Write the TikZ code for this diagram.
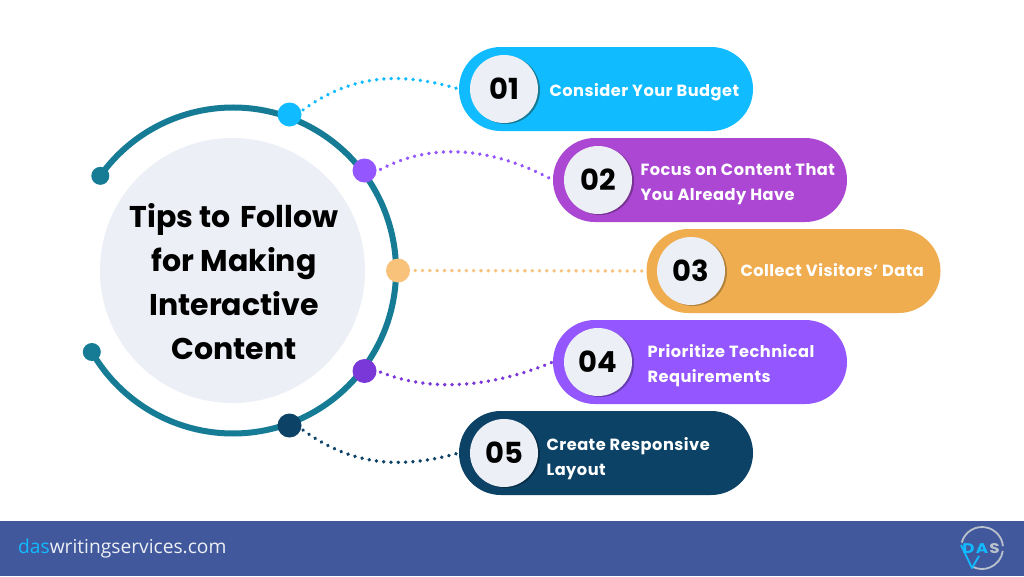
\documentclass[tikz,border=0pt]{standalone}
\usepackage{fontspec}
\setmainfont{Poppins}
\newfontfamily\footfont{Open Sans}
\newfontfamily\labelfont[LetterSpace=3]{Poppins}
\usetikzlibrary{calc}
\definecolor{ringc}{HTML}{167C96}
\definecolor{softc}{HTML}{ECEFF5}
\definecolor{cA}{HTML}{11BBFF}
\definecolor{cB}{HTML}{AB47D2}
\definecolor{cBd}{HTML}{9457FF}
\definecolor{cC}{HTML}{EFAD4F}
\definecolor{cCd}{HTML}{F8C27A}
\definecolor{cD}{HTML}{9457FF}
\definecolor{cDd}{HTML}{7B38D8}
\definecolor{cE}{HTML}{0B4266}
\definecolor{barc}{HTML}{42589C}
\definecolor{logog}{HTML}{B9C2CC}
\tikzset{
  pill/.style={rounded corners=41.9pt,minimum width=294pt,minimum height=84pt,inner sep=0pt,fill=#1},
  badge/.style={circle,minimum size=68pt,inner sep=0pt,fill=softc,font=\bfseries\fontsize{29}{29}\selectfont,text=black},
  badgeshade/.style={circle,minimum size=68pt,inner sep=0pt,fill=#1},
  joint/.style={circle,minimum size=24pt,inner sep=0pt,fill=#1},
  link/.style={draw=#1,line width=3.8pt,line cap=round,dash pattern=on 0.01pt off 7.3pt},
  lab/.style={anchor=west,align=left,text=white,font=\labelfont\bfseries\fontsize{16.2}{25}\selectfont},
}
\begin{document}
\begin{tikzpicture}[x=1pt,y=-1pt]
\useasboundingbox (0,0) rectangle (1024,576);
\fill[white] (0,0) rectangle (1024,576);
% footer
\node[anchor=north west,minimum width=1024pt,minimum height=55pt,inner sep=0pt,fill=barc] (bar) at (0,521) {};
\node[anchor=west,inner sep=0pt,font=\footfont\fontsize{19.2}{20}\selectfont,text=softc] (site) at (18,548.5) {\textcolor{cA}{das}writingservices.com};
% logo
\coordinate (lg) at (982,548);
\draw[logog,line width=1.8pt] ($(lg)+(165:21pt)$) arc[start angle=165,end angle=5,radius=21pt];
\draw[logog,line width=1.8pt] ($(lg)+(-8:21pt)$) arc[start angle=-8,end angle=-115,radius=21pt];
\draw[cA,line width=1.8pt,line join=round] (961,545) -- (972,568) -- (979,556);
\node[inner sep=0pt,font=\bfseries\fontsize{14}{14}\selectfont,text=cA,xscale=1.2] (dastext) at (981,548.5) {D\kern1pt A\kern1pt\textcolor{logog}{S}};
% centre
\coordinate (c) at (233,270.5);
\node[circle,minimum size=265pt,inner sep=0pt,fill=softc] (hub) at (232.5,270.5) {};
\node[align=center,inner sep=0pt,text=black,font=\bfseries\fontsize{30}{44}\selectfont] (hubtext) at (234,281.5) {Tips to\kern3pt{} Follow\\for Making\\Interactive\\Content};
% ring
\coordinate (ra) at ($(c)+(144.5:163pt)$);
\coordinate (rb) at ($(c)+(210:163pt)$);
\draw[ringc,line width=6pt] (ra) arc[start angle=144.5,end angle=-150,radius=163pt];
\node[circle,minimum size=18pt,inner sep=0pt,fill=ringc] (enda) at (ra) {};
\node[circle,minimum size=18pt,inner sep=0pt,fill=ringc] (endb) at (rb) {};
% joints
\node[joint=cA] (j1) at (289.5,114.5) {};
\node[joint=cBd] (j2) at (364.5,170.5) {};
\node[joint=cCd] (j3) at (398,270.5) {};
\node[joint=cDd] (j4) at (364.5,371) {};
\node[joint=cE] (j5) at (289.5,425.5) {};
% pills
\node[pill=cA] (p1) at (606,89) {};
\node[pill=cB] (p2) at (700,180) {};
\node[pill=cC] (p3) at (793.5,271) {};
\node[pill=cD] (p4) at (700,362) {};
\node[pill=cE] (p5) at (606,453) {};
% links
\draw[link=cA] (j1.30) ++(3pt,-1.5pt) coordinate (l1) (l1) .. controls (355,72) and (405,73) .. (p1.west);
\draw[link=cBd] (j2.10) ++(4pt,-1pt) coordinate (l2) (l2) .. controls (430,143) and (490,146) .. (p2.west);
\draw[link=cCd] (j3.east) ++(5pt,0pt) coordinate (l3) (l3) -- (p3.west);
\draw[link=cDd] (j4.-10) ++(4pt,1pt) coordinate (l4) (l4) .. controls (430,392) and (490,388) .. (p4.west);
\draw[link=cE] (j5.-30) ++(3pt,1.5pt) coordinate (l5) (l5) .. controls (355,468) and (405,468) .. (p5.west);
% badges
\node[badgeshade=ringc] (s1) at (506,90) {};
\node[badge] (b1) at (504,89) {01};
\node[badgeshade={cB!70!black}] (s2) at (600,181) {};
\node[badge] (b2) at (598,180) {02};
\node[badgeshade={cC!75!black}] (s3) at (693,272) {};
\node[badge] (b3) at (691,271) {03};
\node[badgeshade={cD!70!black}] (s4) at (600,363) {};
\node[badge] (b4) at (598,362) {04};
\node[badgeshade={cE!70!black}] (s5) at (506,454) {};
\node[badge] (b5) at (504,453) {05};
% labels
\node[lab] (t1) at (546,92) {Consider Your Budget};
\node[lab] (t2) at (637,184) {Focus on Content That\\You Already Have};
\node[lab] (t3) at (737,270.5) {Collect Visitors’ Data};
\node[lab] (t4) at (644,366) {Prioritize Technical\\Requirements};
\node[lab] (t5) at (543,459) {Create Responsive\\Layout};
\end{tikzpicture}
\end{document}
